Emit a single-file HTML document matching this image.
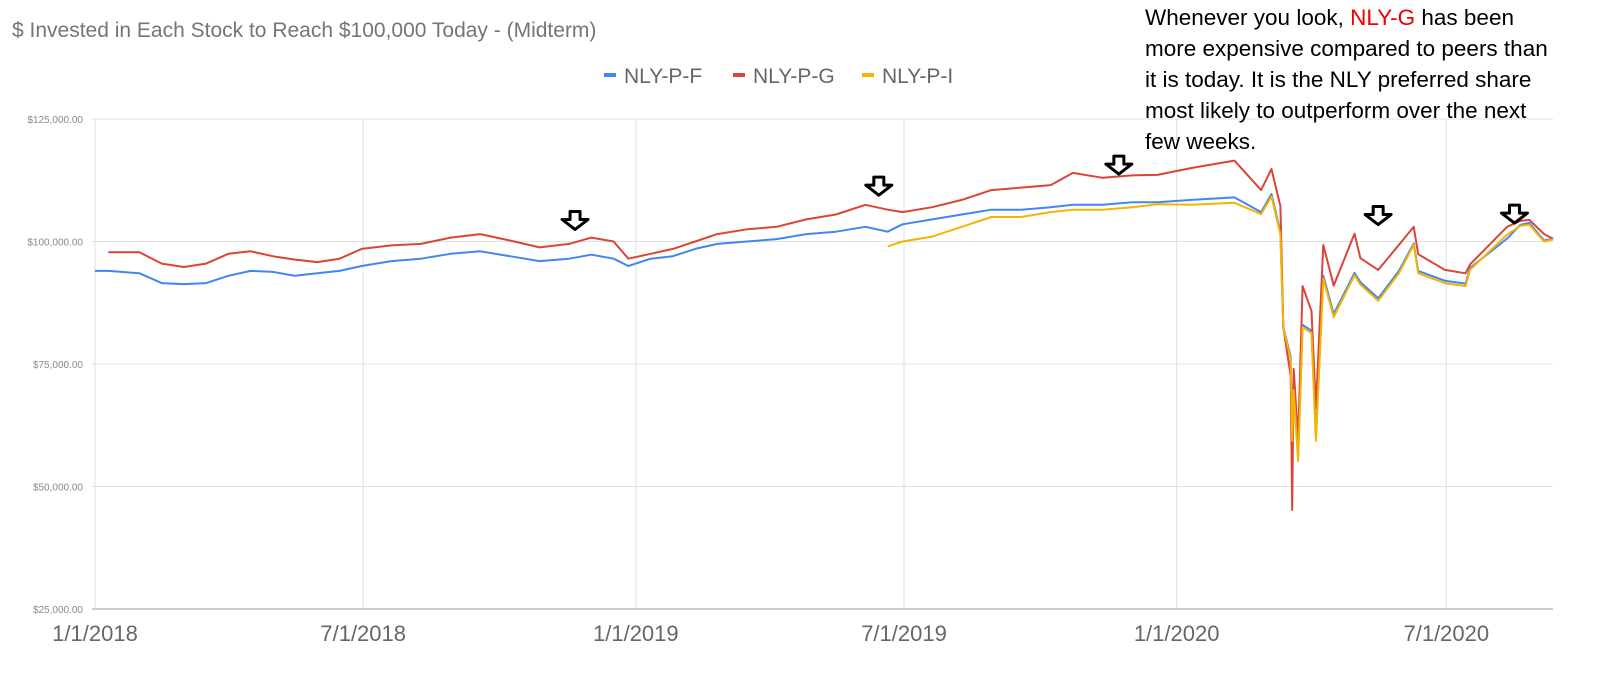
<!DOCTYPE html>
<html><head><meta charset="utf-8"><style>
body{margin:0;background:#fff;}
svg{display:block;font-family:"Liberation Sans",sans-serif;}
</style></head><body>
<svg id="c" width="1600" height="675">
<text x="12" y="37" font-size="21" fill="#757575">$ Invested in Each Stock to Reach $100,000 Today - (Midterm)</text>
<g font-size="21" fill="#666">
<g><rect x="604" y="73" width="12" height="4" fill="#4285f4"/><text x="624" y="83">NLY-P-F</text></g>
<g><rect x="733" y="73" width="12" height="4" fill="#db4437"/><text x="753" y="83">NLY-P-G</text></g>
<g><rect x="862" y="73" width="12" height="4" fill="#f4b400"/><text x="882" y="83">NLY-P-I</text></g>
</g>
<g id="grid"></g><g id="series"></g><g id="arrows"></g>
<text font-size="22.5" fill="#000">
<tspan x="1145" y="25">Whenever you look, <tspan fill="#e00">NLY-G</tspan> has been</tspan>
<tspan x="1145" y="56">more expensive compared to peers than</tspan>
<tspan x="1145" y="87">it is today. It is the NLY preferred share</tspan>
<tspan x="1145" y="118">most likely to outperform over the next</tspan>
<tspan x="1145" y="149">few weeks.</tspan>
</text>
</svg>
<script>
const yTicks=[25000,50000,75000,100000,125000];
const xTickDays=[0,181,365,546,730,912];
const xTickLabels=["1/1/2018","7/1/2018","1/1/2019","7/1/2019","1/1/2020","7/1/2020"];
const days=[0,9,30,45,60,75,90,105,120,135,150,165,180,200,220,240,260,280,300,320,335,350,360,375,390,405,420,440,460,480,500,520,535,545,565,585,605,625,645,660,680,700,717,740,769,787,794,800,802,807,808,809,812,815,821,824,829,836,850,854,866,880,890,893,911,925,928,953,962,968,978,984];
const seriesF=[94,94,93.5,91.5,91.3,91.5,93,94,93.8,93,93.5,94,95,96,96.5,97.5,98,97,96,96.5,97.3,96.5,95,96.5,97,98.5,99.5,100,100.5,101.5,102,103,102,103.5,104.5,105.5,106.5,106.5,107,107.5,107.5,108,108,108.5,109,106,109.7,101.8,82.5,76.5,60,70,56,83,81.8,60,93,85.2,93.6,91.7,88.4,94,99.6,94,92,91.4,94.6,100.6,103.4,103.8,100.2,100.6];
const seriesG=[null,97.8,97.8,95.5,94.8,95.5,97.5,98,97,96.3,95.8,96.5,98.5,99.2,99.5,100.8,101.5,100.2,98.8,99.5,100.8,100,96.5,97.5,98.5,100,101.5,102.5,103,104.5,105.5,107.5,106.5,106,107,108.5,110.5,111,111.5,114,113,113.5,113.6,115,116.5,110.5,114.8,107.2,82.5,72.6,45.2,74,59.3,90.9,85.8,66,99.3,91,101.6,96.6,94.2,99.3,103,97.4,94.2,93.5,95.3,103,104.2,104.4,101.5,100.6];
const seriesI=[null,null,null,null,null,null,null,null,null,null,null,null,null,null,null,null,null,null,null,null,null,null,null,null,null,null,null,null,null,null,null,null,99,100,101,103,105,105,106,106.5,106.5,107,107.6,107.5,107.9,105.6,109.2,101.4,82.3,76,59.3,69.7,55.2,82.5,81.3,59.3,92.4,84.6,93.1,91.2,87.9,93.5,99.3,93.5,91.5,90.9,94.2,101.4,103.2,103.4,100,100.4];
const arrowDays=[324,529,691,866,958];
const arrowVals=[104.5,111.5,115.8,105.5,105.8];

const X0=95,X1=1553,Y0=609,Y1=119;
const xs=d=>X0+d*(1458/984);
const ys=v=>Y0-(v-25000)/100000*(Y0-Y1);
const NS="http://www.w3.org/2000/svg";
function mk(t,a,p){const e=document.createElementNS(NS,t);for(const k in a)e.setAttribute(k,a[k]);p.appendChild(e);return e;}
const grid=document.getElementById('grid');
yTicks.forEach(v=>{
 const l=mk('line',{x1:X0-3,x2:X1,y1:ys(v),y2:ys(v),stroke:v===25000?'#ccc':'#e0e0e0','stroke-width':v===25000?2:1},grid);
 
 
 const t=mk('text',{x:83,y:ys(v)+4,'text-anchor':'end','font-size':10,fill:'#888'},grid);
 t.textContent='$'+v.toLocaleString('en-US')+'.00';
 
 
});
xTickDays.forEach((d,i)=>{
 const l=mk('line',{x1:xs(d),x2:xs(d),y1:Y1,y2:Y0,stroke:'#e0e0e0'},grid);
 
 
 const t=mk('text',{x:xs(d),y:641,'text-anchor':'middle','font-size':22,fill:'#666'},grid);
 t.textContent=xTickLabels[i];
 
 
});
const sg=document.getElementById('series');
[[seriesF,'#4285f4','series-nly-p-f'],[seriesG,'#db4437','series-nly-p-g'],[seriesI,'#f4b400','series-nly-p-i']].forEach(([s,c,n])=>{
 let d='';let started=false;
 s.forEach((v,i)=>{if(v==null)return;d+=(started?'L':'M')+xs(days[i]).toFixed(1)+','+ys(v*1000).toFixed(1);started=true;});
 const p=mk('path',{d:d,fill:'none',stroke:c,'stroke-width':2,'stroke-linejoin':'round'},sg);
 
 
});
const ag=document.getElementById('arrows');
arrowDays.forEach((d,i)=>{
 const x=xs(d),y=ys(arrowVals[i]*1000);
 const p=mk('path',{d:`M${x-5},${y-8}h10v8h8l-13,10l-13,-10h8z`,fill:'#fff',stroke:'#000','stroke-width':3,'stroke-linejoin':'round'},ag);
 
 
});
</script>
</body></html>
